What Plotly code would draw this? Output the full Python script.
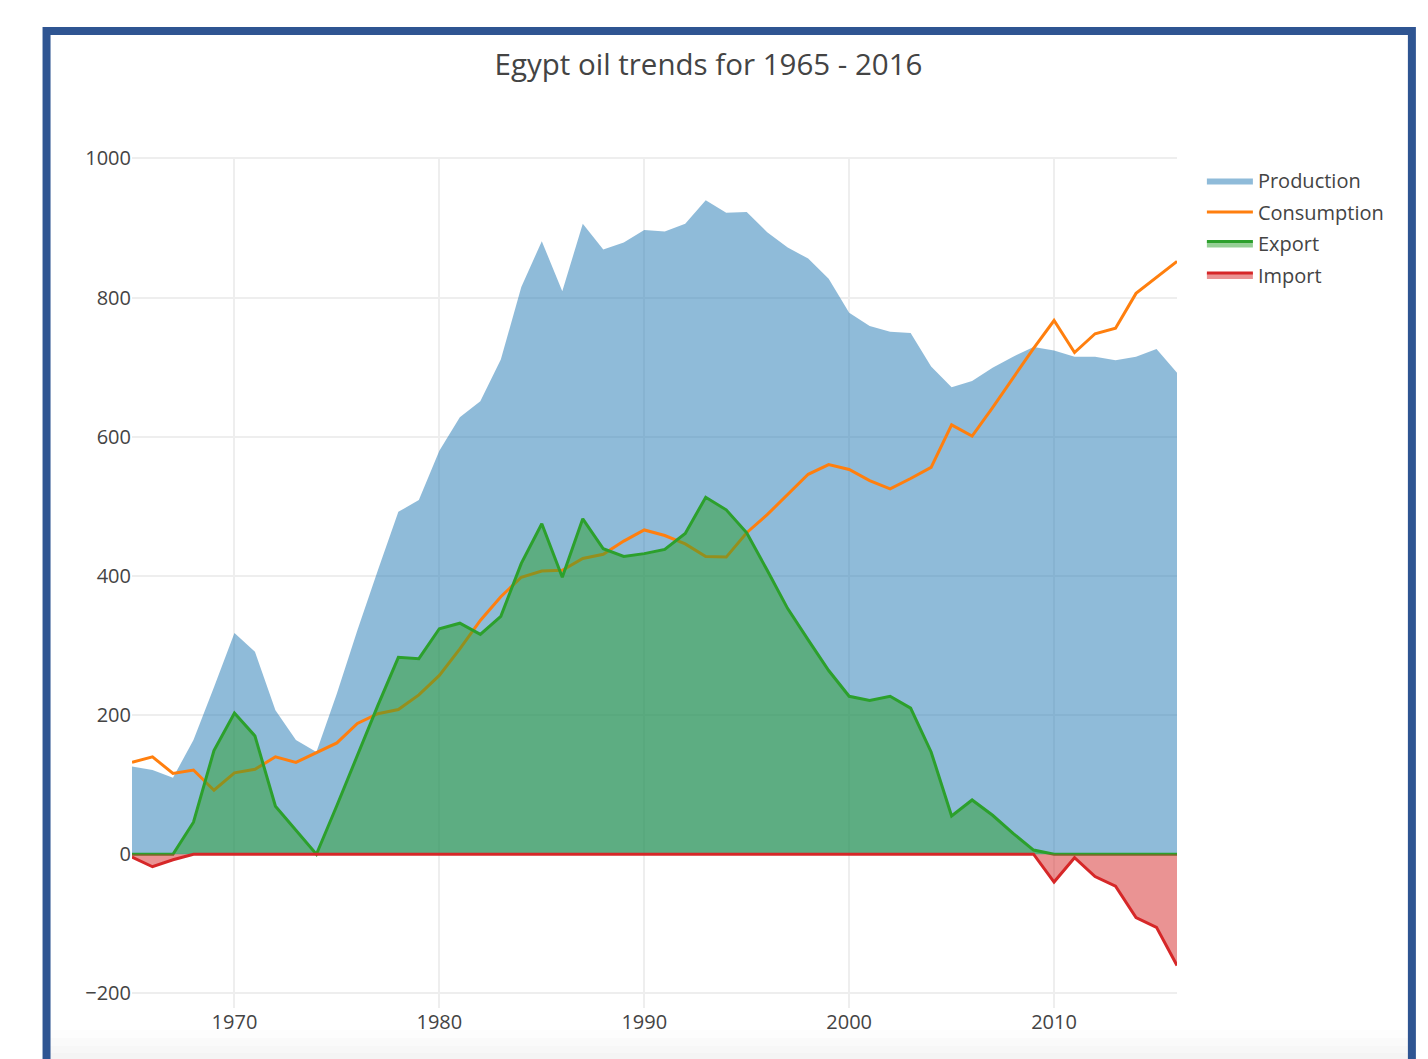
import plotly.graph_objects as go

years = list(range(1965, 2017))

production = [126, 121, 110, 164, 240, 318, 291, 207, 164, 147,
              231, 322, 408, 492, 509, 580, 628, 651, 711, 815,
              881, 809, 906, 869, 879, 897, 895, 906, 940, 922,
              923, 894, 872, 856, 827, 778, 759, 751, 749, 701,
              671, 680, 699, 715, 729, 724, 715, 715, 710, 715,
              726, 692]

consumption = [132, 140, 116, 121, 92, 117, 122, 140, 132, 146,
               160, 188, 202, 208, 229, 257, 295, 336, 370, 398,
               407, 408, 425, 431, 450, 466, 458, 446, 428, 427,
               462, 488, 517, 546, 560, 553, 537, 525, 540, 556,
               617, 601, 642, 685, 727, 767, 721, 748, 756, 806,
               829, 852]

export = [0, 0, 0, 46, 149, 203, 170, 69, 34, 0,
          70, 142, 214, 283, 281, 324, 332, 316, 342, 418,
          475, 398, 482, 439, 428, 432, 438, 461, 513, 495,
          462, 408, 353, 308, 264, 227, 221, 227, 210, 147,
          55, 78, 56, 30, 6, 0, 0, 0, 0, 0,
          0, 0]

imports = [-4, -18, -8, 0, 0, 0, 0, 0, 0, 0,
           0, 0, 0, 0, 0, 0, 0, 0, 0, 0,
           0, 0, 0, 0, 0, 0, 0, 0, 0, 0,
           0, 0, 0, 0, 0, 0, 0, 0, 0, 0,
           0, 0, 0, 0, 0, -40, -5, -32, -46, -91,
           -105, -160]

OFF = 8  # default page body margin
W, H = 1428 - OFF, 1059 - OFF
L, R, T, B = 131.5 - OFF, 1177 - OFF, 157 - OFF, 1008 - OFF


def px(x):
    return (x - OFF - L) / (R - L)


def py(y):
    return (B - (y - OFF)) / (B - T)


fig = go.Figure()
fig.add_trace(go.Scatter(x=years, y=production, name="Production", mode="lines",
                         fill="tozeroy", line=dict(width=0, color="#1f77b4"),
                         fillcolor="rgba(31,119,180,0.5)", legendgroup="p"))
fig.add_trace(go.Scatter(x=years, y=consumption, name="Consumption", mode="lines",
                         line=dict(width=3, color="#ff7f0e"), legendgroup="c"))
fig.add_trace(go.Scatter(x=years, y=export, name="Export", mode="lines",
                         fill="tozeroy", line=dict(width=3, color="#2ca02c"),
                         fillcolor="rgba(44,160,44,0.5)", legendgroup="e"))
fig.add_trace(go.Scatter(x=years, y=imports, name="Import", mode="lines",
                         fill="tozeroy", line=dict(width=3, color="#d62728"),
                         fillcolor="rgba(214,39,40,0.5)", legendgroup="i"))

shapes = []
# bottom page gradient
grads = [(1030, "#fdfdfd"), (1038, "#fafafa"), (1046, "#f7f7f7"), (1053, "#f4f4f4")]
for y0, c in grads:
    shapes.append(dict(type="rect", xref="paper", yref="paper",
                       x0=px(50), x1=px(1408), y0=py(1075), y1=py(y0),
                       fillcolor=c, line=dict(width=0), layer="below"))
# frame border
shapes.append(dict(type="rect", xref="paper", yref="paper",
                   x0=px(46), x1=px(1412), y0=py(1080), y1=py(31),
                   line=dict(color="#2f5592", width=8), fillcolor="rgba(0,0,0,0)",
                   layer="above"))

fig.update_layout(
    width=W, height=H,
    margin=dict(l=L, r=W - R, t=T, b=H - B, pad=0),
    paper_bgcolor="white", plot_bgcolor="white",
    font=dict(family="Open Sans, verdana, arial, sans-serif", size=20, color="#444"),
    title=dict(text="Egypt oil trends for 1965 - 2016", x=(708.5 - OFF) / W, xanchor="center",
               y=1 - (65 - OFF) / H, yanchor="middle", yref="container",
               font=dict(size=29.5, color="#444")),
    xaxis=dict(range=[1965, 2016], dtick=10, tick0=1970, showgrid=True,
               gridcolor="#eeeeee", gridwidth=1.5, zeroline=False, showline=False,
               ticks="", tickfont=dict(size=20, color="#444")),
    yaxis=dict(range=[-221, 1002], dtick=200, showgrid=True,
               gridcolor="#eeeeee", gridwidth=1.5, zeroline=False, showline=False,
               ticks="", tickfont=dict(size=20, color="#444")),
    legend=dict(x=1.02 + 4 / (R - L), y=1 - 4 / (B - T), xanchor="left", yanchor="top",
                font=dict(size=20, color="#444"), itemwidth=46,
                bgcolor="rgba(0,0,0,0)", tracegroupgap=2.5),
    shapes=shapes,
    showlegend=True,
)

fig.write_html("out.html")
